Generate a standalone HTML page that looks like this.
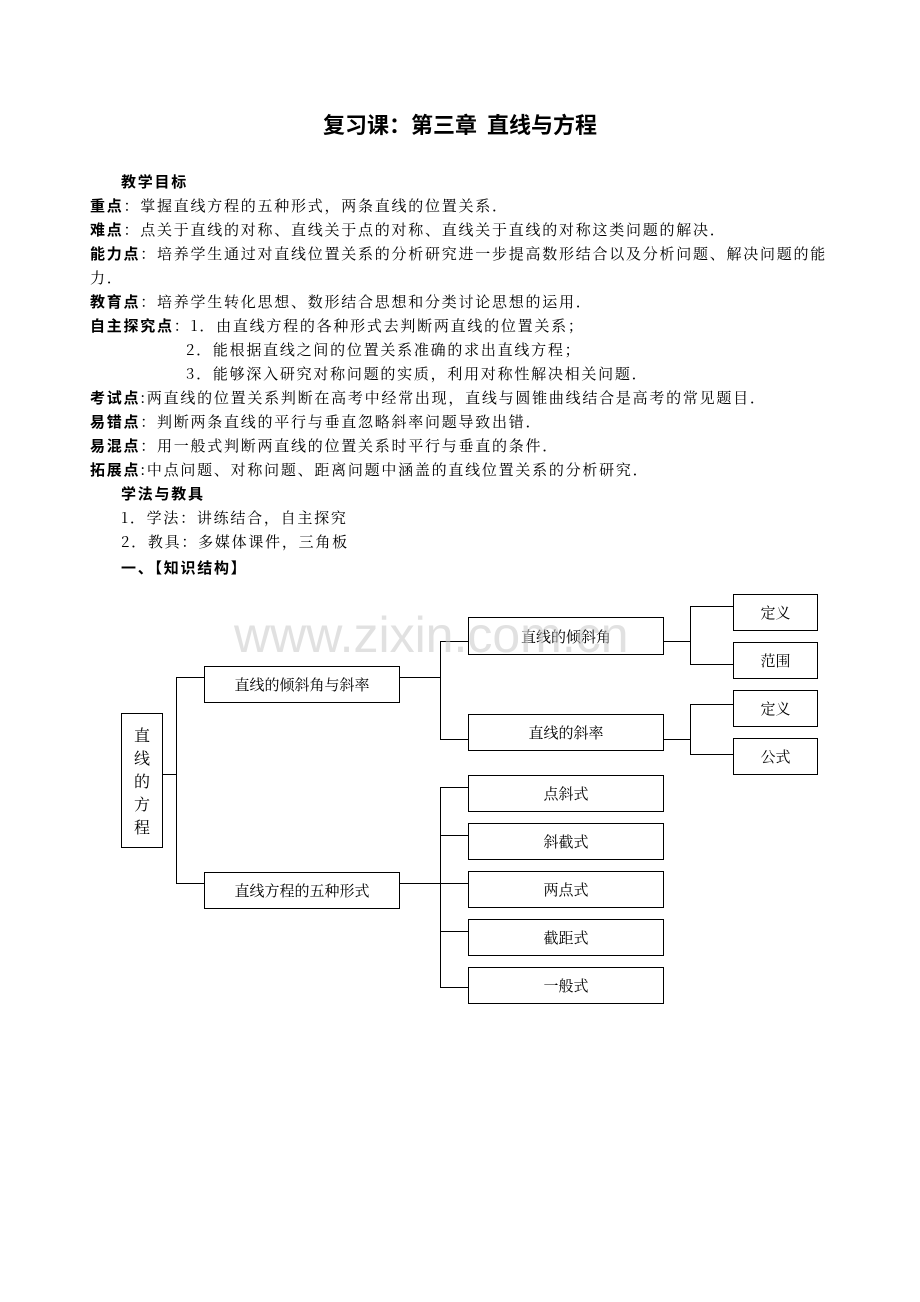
<!DOCTYPE html>
<html><head><meta charset="utf-8">
<style>
body{margin:0;background:#fff;width:920px;height:1302px;position:relative;font-family:"Noto Serif CJK SC","Liberation Serif",serif;color:#000}
.t{position:absolute;font-size:15px;line-height:18px;white-space:nowrap;letter-spacing:1.75px}
b{font-family:"Noto Sans CJK SC","Liberation Sans",sans-serif;font-weight:bold}
.box{position:absolute;border:1.3px solid #000;box-sizing:border-box;display:flex;align-items:center;justify-content:center;font-size:15px;background:transparent}
.l{position:absolute;background:#000}
</style></head><body>
<div class="t" style="left:0;width:920px;text-align:center;top:110px;font-size:22px;line-height:28px;letter-spacing:0"><b>复习课：第三章&nbsp;&nbsp;直线与方程</b></div>
<div class="t" style="left:121px;top:173px"><b>教学目标</b></div>
<div class="t" style="left:90px;top:197px"><b>重点</b>：掌握直线方程的五种形式，两条直线的位置关系．</div>
<div class="t" style="left:90px;top:221px"><b>难点</b>：点关于直线的对称、直线关于点的对称、直线关于直线的对称这类问题的解决．</div>
<div class="t" style="left:90px;top:245px"><b>能力点</b>：培养学生通过对直线位置关系的分析研究进一步提高数形结合以及分析问题、解决问题的能</div>
<div class="t" style="left:90px;top:269px">力．</div>
<div class="t" style="left:90px;top:293px"><b>教育点</b>：培养学生转化思想、数形结合思想和分类讨论思想的运用．</div>
<div class="t" style="left:90px;top:317px"><b>自主探究点</b>：1．由直线方程的各种形式去判断两直线的位置关系；</div>
<div class="t" style="left:186px;top:341px">2．能根据直线之间的位置关系准确的求出直线方程；</div>
<div class="t" style="left:186px;top:365px">3．能够深入研究对称问题的实质，利用对称性解决相关问题．</div>
<div class="t" style="left:90px;top:389px"><b>考试点</b>:两直线的位置关系判断在高考中经常出现，直线与圆锥曲线结合是高考的常见题目．</div>
<div class="t" style="left:90px;top:413px"><b>易错点</b>：判断两条直线的平行与垂直忽略斜率问题导致出错．</div>
<div class="t" style="left:90px;top:437px"><b>易混点</b>：用一般式判断两直线的位置关系时平行与垂直的条件．</div>
<div class="t" style="left:90px;top:461px"><b>拓展点</b>:中点问题、对称问题、距离问题中涵盖的直线位置关系的分析研究．</div>
<div class="t" style="left:121px;top:485px"><b>学法与教具</b></div>
<div class="t" style="left:121px;top:509px">1．学法：讲练结合，自主探究</div>
<div class="t" style="left:121px;top:533px">2．教具：多媒体课件，三角板</div>
<div class="t" style="left:121px;top:559px"><b>一、【知识结构】</b></div>

<!-- lines -->
<div class="l" style="left:162px;top:774px;width:15px;height:1.3px"></div>
<div class="l" style="left:176px;top:677px;width:1.3px;height:207px"></div>
<div class="l" style="left:176px;top:677px;width:28px;height:1.3px"></div>
<div class="l" style="left:176px;top:883px;width:28px;height:1.3px"></div>
<div class="l" style="left:399px;top:677px;width:41px;height:1.3px"></div>
<div class="l" style="left:440px;top:641px;width:1.3px;height:99px"></div>
<div class="l" style="left:440px;top:641px;width:28px;height:1.3px"></div>
<div class="l" style="left:440px;top:739px;width:28px;height:1.3px"></div>
<div class="l" style="left:399px;top:883px;width:69px;height:1.3px"></div>
<div class="l" style="left:440px;top:787px;width:1.3px;height:201px"></div>
<div class="l" style="left:440px;top:787px;width:28px;height:1.3px"></div>
<div class="l" style="left:440px;top:835px;width:28px;height:1.3px"></div>
<div class="l" style="left:440px;top:931px;width:28px;height:1.3px"></div>
<div class="l" style="left:440px;top:987px;width:28px;height:1.3px"></div>
<div class="l" style="left:663px;top:641px;width:27px;height:1.3px"></div>
<div class="l" style="left:690px;top:606px;width:1.3px;height:59px"></div>
<div class="l" style="left:690px;top:606px;width:43px;height:1.3px"></div>
<div class="l" style="left:690px;top:664px;width:43px;height:1.3px"></div>
<div class="l" style="left:663px;top:739px;width:27px;height:1.3px"></div>
<div class="l" style="left:690px;top:704px;width:1.3px;height:51px"></div>
<div class="l" style="left:690px;top:704px;width:43px;height:1.3px"></div>
<div class="l" style="left:690px;top:754px;width:43px;height:1.3px"></div>

<!-- boxes -->
<div class="box" style="left:121px;top:713px;width:42px;height:135px;flex-direction:column;line-height:23px;font-size:16px">直<br>线<br>的<br>方<br>程</div>
<div class="box" style="left:204px;top:666px;width:196px;height:37px">直线的倾斜角与斜率</div>
<div class="box" style="left:204px;top:872px;width:196px;height:37px">直线方程的五种形式</div>
<div class="box" style="left:468px;top:617px;width:196px;height:38px">直线的倾斜角</div>
<div class="box" style="left:468px;top:714px;width:196px;height:37px">直线的斜率</div>
<div class="box" style="left:733px;top:594px;width:85px;height:37px">定义</div>
<div class="box" style="left:733px;top:642px;width:85px;height:37px">范围</div>
<div class="box" style="left:733px;top:690px;width:85px;height:37px">定义</div>
<div class="box" style="left:733px;top:738px;width:85px;height:37px">公式</div>
<div class="box" style="left:468px;top:775px;width:196px;height:37px">点斜式</div>
<div class="box" style="left:468px;top:823px;width:196px;height:37px">斜截式</div>
<div class="box" style="left:468px;top:871px;width:196px;height:37px">两点式</div>
<div class="box" style="left:468px;top:919px;width:196px;height:37px">截距式</div>
<div class="box" style="left:468px;top:967px;width:196px;height:37px">一般式</div>

<div class="t" style="left:234px;top:608px;font-size:50px;line-height:54px;letter-spacing:0;color:rgba(200,200,200,0.55);font-family:'Liberation Sans',sans-serif;z-index:5">www.zixin.com.cn</div>
</body></html>
